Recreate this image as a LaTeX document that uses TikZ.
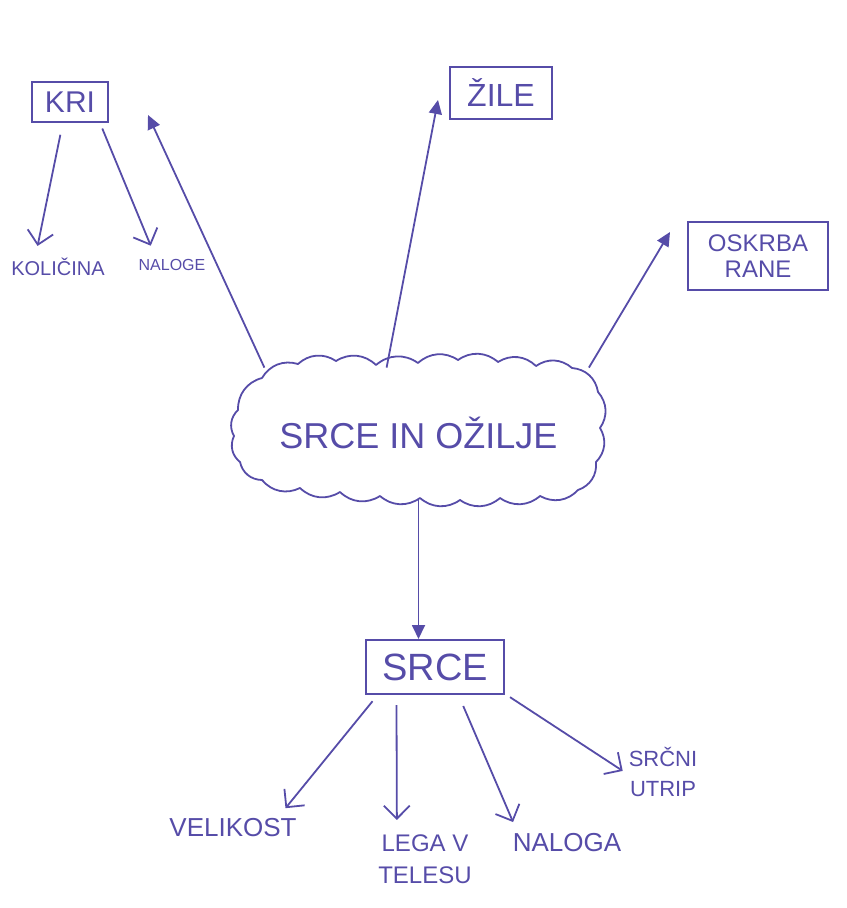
\documentclass[tikz,border=0pt]{standalone}
\usepackage{fontspec}
\setmainfont{Liberation Sans}
\usetikzlibrary{arrows.meta}
\definecolor{inkcol}{RGB}{86,76,168}
\tikzset{
  boxnd/.style={draw=inkcol, line width=1pt, inner sep=3pt, text=inkcol,
    align=center},
  itemtxt/.style={text=inkcol, align=center, inner sep=2pt},
  cloudln/.style={draw=inkcol, line width=0.9pt, line join=round},
  mainln/.style={-{Triangle[length=7pt,width=6.5pt]}, line width=0.9pt, inkcol},
  subln/.style={-{Straight Barb[length=6.5pt,width=13pt]}, line width=0.9pt,
    inkcol},
}
\newcommand{\fs}[1]{\fontsize{#1}{1.35\dimexpr#1pt\relax}\selectfont}

\begin{document}
\begin{tikzpicture}[x=0.5pt,y=-0.5pt]
    \useasboundingbox (0,0) rectangle (846,908);
    % the cloud in the middle
    \node[inner sep=0, minimum width=173.5pt, minimum height=65pt] (ozilje)
      at (418.5,433) {};
    \draw[cloudln] (262,378) \foreach \px/\py in {298/364,336/361,376/365,
      418/363,458/360,498/362,536/366,572/368,598/392,600/428,596/462,
      578/490,540/496,500/498,460/500,420/498,380/496,340/492,300/488,
      262/480,240/462,234/436,238/410,262/378}
      { to[bend left=38] (\px,\py) };
    \node[itemtxt, font=\fs{18}] (oziljetxt) at (ozilje) {SRCE IN OŽILJE};
    % boxes
    \node[boxnd, minimum width=38pt, minimum height=20pt, font=\fs{15}]
      (kri) at (70,102) {KRI};
    \node[boxnd, minimum width=51pt, minimum height=26pt, font=\fs{16}]
      (zile) at (501,93) {ŽILE};
    \node[boxnd, minimum width=70pt, minimum height=34pt, font=\fs{12}]
      (oskrba) at (758,256) {OSKRBA\\[-3pt]RANE};
    \node[boxnd, minimum width=69pt, minimum height=27pt, font=\fs{19}]
      (srce) at (435,667) {SRCE};
    % leaves
    \node[itemtxt, font=\fs{10}] (kolicina) at (58,267) {KOLIČINA};
    \node[itemtxt, font=\fs{8}] (naloge) at (172,265) {NALOGE};
    \node[itemtxt, font=\fs{13}] (velikost) at (233,828) {VELIKOST};
    \node[itemtxt, font=\fs{12}] (lega) at (425,859) {LEGA V\\TELESU};
    \node[itemtxt, font=\fs{13}] (naloga) at (567,843) {NALOGA};
    \node[itemtxt, font=\fs{11}] (srcni) at (663,772) {SRČNI\\UTRIP};
    % where the big heads stop
    \coordinate (kritip) at (148,115);
    \coordinate (ziletip) at (438,100);
    \coordinate (oskrbatip) at (670,232);
    % from the cloud
    \draw[mainln] (ozilje.157) -- (kritip);
    \draw[mainln] (ozilje.116) -- (ziletip);
    \draw[mainln] (ozilje.21) -- (oskrbatip);
    \draw[mainln] (ozilje.south) -- (srce.north -| ozilje.south);
    % under KRI
    \draw[subln, shorten <=6pt, shorten >=4pt] (kri.251) -- (kolicina.149);
    \draw[subln, shorten <=3pt, shorten >=5pt] (kri.325) -- (naloge.150);
    % under SRCE
    \draw[subln, shorten <=4pt, shorten >=4pt] (srce.206) -- (velikost.16);
    \draw[subln, shorten <=5pt, shorten >=5pt] (srce.216) -- (lega.134);
    \draw[subln, shorten <=6pt, shorten >=4pt] (srce.310) -- (naloga.165);
    \draw[subln, shorten <=3pt, shorten >=1pt] (srce.339) -- (srcni.west);
\end{tikzpicture}
\end{document}
